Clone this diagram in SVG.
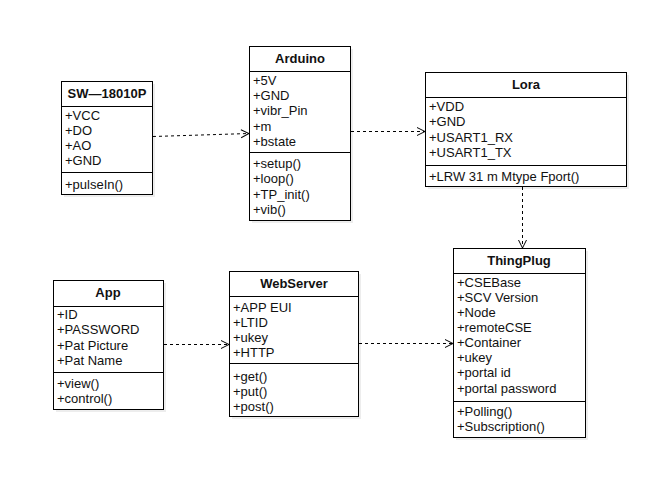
<svg xmlns="http://www.w3.org/2000/svg" width="667" height="494" viewBox="0 0 667 494">
<defs>
<style>
.box{fill:#fff;stroke:#000;stroke-width:1}
.sh{fill:#000;fill-opacity:0.07}
.sep{stroke:#000;stroke-width:1}
.t{font-family:"Liberation Sans",Arial,sans-serif;font-size:13px;fill:#111}
.h{font-family:"Liberation Sans",Arial,sans-serif;font-size:13px;font-weight:bold;fill:#111;text-anchor:middle}
.e{fill:none;stroke:#000;stroke-width:1;stroke-dasharray:3 3}
</style>
<marker id="arr" viewBox="0 0 10 10" refX="9" refY="5" markerWidth="10" markerHeight="10" markerUnits="userSpaceOnUse" orient="auto">
<path d="M1,1 L9,5 L1,9" fill="none" stroke="#000" stroke-width="1"/>
</marker>
</defs>
<rect width="667" height="494" fill="#fff"/>

<g id="sw18010p">
<rect class="sh" x="64" y="84" width="91" height="113"/>
<rect class="box" x="61.5" y="81.5" width="91" height="113"/>
<line class="sep" x1="61.5" y1="106.5" x2="152.5" y2="106.5"/>
<line class="sep" x1="61.5" y1="172.5" x2="152.5" y2="172.5"/>
<text class="h" x="107" y="98">SW—18010P</text>
<text class="t" x="65" y="120">+VCC</text>
<text class="t" x="65" y="135">+DO</text>
<text class="t" x="65" y="150">+AO</text>
<text class="t" x="65" y="165">+GND</text>
<text class="t" x="65" y="189">+pulseIn()</text>
</g>

<g id="arduino">
<rect class="sh" x="252" y="49" width="101" height="174"/>
<rect class="box" x="249.5" y="46.5" width="101" height="174"/>
<line class="sep" x1="249.5" y1="71.5" x2="350.5" y2="71.5"/>
<line class="sep" x1="249.5" y1="152.5" x2="350.5" y2="152.5"/>
<text class="h" x="300" y="63">Arduino</text>
<text class="t" x="253" y="85">+5V</text>
<text class="t" x="253" y="100">+GND</text>
<text class="t" x="253" y="115">+vibr_Pin</text>
<text class="t" x="253" y="131">+m</text>
<text class="t" x="253" y="146">+bstate</text>
<text class="t" x="253" y="168">+setup()</text>
<text class="t" x="253" y="183">+loop()</text>
<text class="t" x="253" y="199">+TP_init()</text>
<text class="t" x="253" y="214">+vib()</text>
</g>

<g id="lora">
<rect class="sh" x="428" y="75" width="201" height="114"/>
<rect class="box" x="425.5" y="72.5" width="201" height="114"/>
<line class="sep" x1="425.5" y1="97.5" x2="626.5" y2="97.5"/>
<line class="sep" x1="425.5" y1="165.5" x2="626.5" y2="165.5"/>
<text class="h" x="526" y="89">Lora</text>
<text class="t" x="429" y="111">+VDD</text>
<text class="t" x="429" y="126">+GND</text>
<text class="t" x="429" y="142">+USART1_RX</text>
<text class="t" x="429" y="157">+USART1_TX</text>
<text class="t" x="429" y="181">+LRW 31 m Mtype Fport()</text>
</g>

<g id="thingplug">
<rect class="sh" x="456" y="251" width="132" height="189"/>
<rect class="box" x="453.5" y="248.5" width="132" height="189"/>
<line class="sep" x1="453.5" y1="273.5" x2="585.5" y2="273.5"/>
<line class="sep" x1="453.5" y1="401.5" x2="585.5" y2="401.5"/>
<text class="h" x="519" y="265">ThingPlug</text>
<text class="t" x="457" y="287">+CSEBase</text>
<text class="t" x="457" y="302">+SCV Version</text>
<text class="t" x="457" y="317">+Node</text>
<text class="t" x="457" y="332">+remoteCSE</text>
<text class="t" x="457" y="347">+Container</text>
<text class="t" x="457" y="362">+ukey</text>
<text class="t" x="457" y="377">+portal id</text>
<text class="t" x="457" y="393">+portal password</text>
<text class="t" x="457" y="416">+Polling()</text>
<text class="t" x="457" y="431">+Subscription()</text>
</g>

<g id="app">
<rect class="sh" x="56" y="283" width="110" height="129"/>
<rect class="box" x="53.5" y="280.5" width="110" height="129"/>
<line class="sep" x1="53.5" y1="306.5" x2="163.5" y2="306.5"/>
<line class="sep" x1="53.5" y1="372.5" x2="163.5" y2="372.5"/>
<text class="h" x="108" y="297">App</text>
<text class="t" x="57" y="319">+ID</text>
<text class="t" x="57" y="334">+PASSWORD</text>
<text class="t" x="57" y="350">+Pat Picture</text>
<text class="t" x="57" y="365">+Pat Name</text>
<text class="t" x="57" y="388">+view()</text>
<text class="t" x="57" y="403">+control()</text>
</g>

<g id="webserver">
<rect class="sh" x="232" y="274" width="129" height="145"/>
<rect class="box" x="229.5" y="271.5" width="129" height="145"/>
<line class="sep" x1="229.5" y1="296.5" x2="358.5" y2="296.5"/>
<line class="sep" x1="229.5" y1="363.5" x2="358.5" y2="363.5"/>
<text class="h" x="294" y="288">WebServer</text>
<text class="t" x="233" y="312">+APP EUI</text>
<text class="t" x="233" y="327">+LTID</text>
<text class="t" x="233" y="342">+ukey</text>
<text class="t" x="233" y="357">+HTTP</text>
<text class="t" x="233" y="381">+get()</text>
<text class="t" x="233" y="396">+put()</text>
<text class="t" x="233" y="411">+post()</text>
</g>

<g id="connectors">
<path class="e" d="M153,136.5 L249,133.5" marker-end="url(#arr)"/>
<path class="e" d="M351,131.5 L425,131.5" marker-end="url(#arr)"/>
<path class="e" d="M522.5,187 L522.5,248" marker-end="url(#arr)"/>
<path class="e" d="M164,344.5 L229,344.5" marker-end="url(#arr)"/>
<path class="e" d="M359,343.5 L453,343.5" marker-end="url(#arr)"/>
</g>
</svg>
